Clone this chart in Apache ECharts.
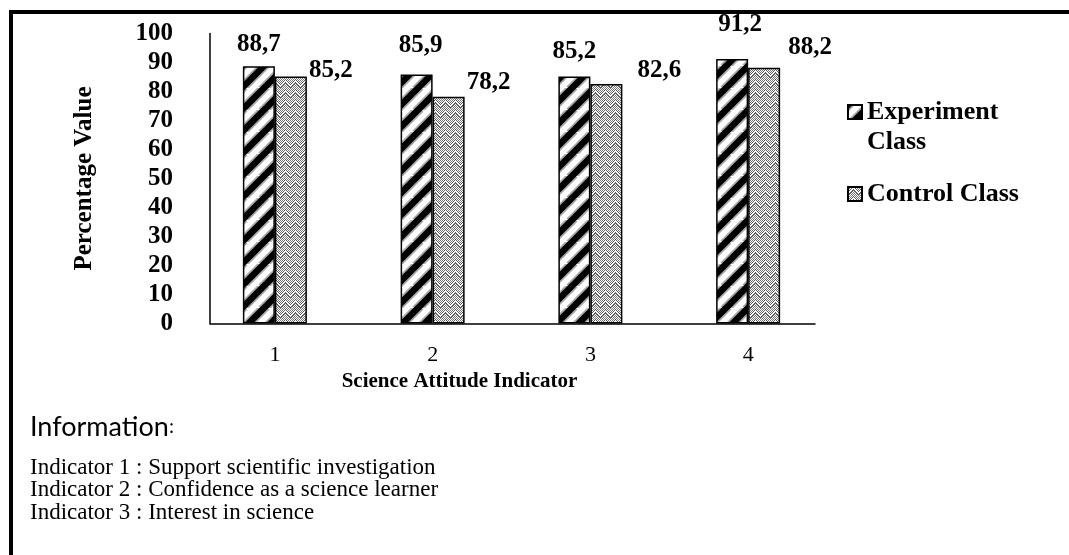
<!DOCTYPE html>
<html><head><meta charset="utf-8">
<script src="https://cdn.jsdelivr.net/npm/echarts@6/dist/echarts.min.js"></script>
<style>
html,body{margin:0;padding:0;background:#fff;overflow:hidden;}
#c{width:1069px;height:555px;position:absolute;left:0;top:0;}
#frame{position:absolute;left:9px;top:10px;width:1060px;height:545px;border-top:4px solid #000;border-left:4px solid #000;box-sizing:border-box;pointer-events:none;}
</style></head>
<body><div id="c"></div><div id="frame"></div>
<script>
// ---- data ----
const categories = ['1', '2', '3', '4'];
const experimentValues = [88.7, 85.9, 85.2, 91.2];
const controlValues = [85.2, 78.2, 82.6, 88.2];
const seriesNames = ['Experiment Class', 'Control Class'];
const yMin = 0, yMax = 100, yStep = 10;
const xTitle = 'Science Attitude Indicator';
const yTitle = 'Percentage Value';
const infoTitle = 'Information';
const infoLines = [
  'Indicator 1 : Support scientific investigation',
  'Indicator 2 : Confidence as a science learner',
  'Indicator 3 : Interest in science'
];
// ---- label placement (style, not data) ----
const expLabelOffsets = [[0, -9.5], [4, -16.5], [0, -12.5], [8, -22]];
const ctrlLabelOffsets = [[40, 6.5], [40, -1.5], [53, -1], [46, -7.5]];

const SERIF = '"Liberation Serif", "Times New Roman", serif';

function stripePattern() {
  const T = 22;
  const c = document.createElement('canvas');
  c.width = T; c.height = T;
  const g = c.getContext('2d');
  g.fillStyle = '#fff'; g.fillRect(0, 0, T, T);
  [[10, '#a8a8a8'], [6.5, '#000']].forEach(([w, col]) => {
    g.strokeStyle = col; g.lineWidth = w;
    for (let k = -1; k <= 1; k++) {
      g.beginPath(); g.moveTo(k * T - 2, T + 2); g.lineTo(k * T + T + 2, -2); g.stroke();
    }
  });
  return c;
}
function weavePattern() {
  const W = 10, H = 10;
  const c = document.createElement('canvas');
  c.width = W; c.height = H;
  const g = c.getContext('2d');
  g.fillStyle = '#fff'; g.fillRect(0, 0, W, H);
  for (let y = 0; y < H; y++) for (let x = 0; x < W; x++) {
    const cy = Math.abs(x - 5);
    const d = ((y - cy) % H + H) % H;
    if (d === 0 || d === 1) continue; // white chevron
    if (d === 2 || d === H - 1) { g.fillStyle = '#555'; g.fillRect(x, y, 1, 1); continue; }
    if ((x + y) % 2 === 0) { g.fillStyle = '#777'; g.fillRect(x, y, 1, 1); }
  }
  return c;
}
const expFill = { image: stripePattern(), repeat: 'repeat' };
const ctrlFill = { image: weavePattern(), repeat: 'repeat' };

const fmt = p => String(p.value).replace('.', ',');
const labelBase = { show: true, position: 'top', distance: 0, fontFamily: SERIF, fontWeight: 'bold', fontSize: 25, color: '#000', formatter: fmt };

const chart = echarts.init(document.getElementById('c'), null, { renderer: 'canvas' });
chart.setOption({
  animation: false,
  backgroundColor: '#fff',
  grid: [
    { left: 210, top: 33.5, width: 605, height: 290 },
    { left: 196, top: 33.5, width: 631, height: 290 }
  ],
  xAxis: [
    { gridIndex: 0, type: 'value', min: 0, max: 1,
      axisLine: { show: true, onZero: false, lineStyle: { color: '#000', width: 1.5 } },
      axisTick: { show: false }, axisLabel: { show: false }, splitLine: { show: false } },
    { gridIndex: 1, type: 'category', data: categories,
      axisLine: { show: false }, axisTick: { show: false },
      axisLabel: { fontFamily: SERIF, fontSize: 22, color: '#000', margin: 21 },
      name: xTitle, nameLocation: 'middle', nameGap: 43,
      nameTextStyle: { fontFamily: SERIF, fontWeight: 'bold', fontSize: 21, color: '#000', padding: [0, 104, 0, 0] } }
  ],
  yAxis: [
    { gridIndex: 0, type: 'value', min: yMin, max: yMax, interval: yStep,
      axisLine: { show: true, lineStyle: { color: '#000', width: 1.5 } },
      axisTick: { show: false }, splitLine: { show: false },
      axisLabel: { fontFamily: SERIF, fontWeight: 'bold', fontSize: 25, color: '#000', margin: 37 },
      name: yTitle, nameLocation: 'middle', nameGap: 113, nameRotate: 90,
      nameTextStyle: { fontFamily: SERIF, fontWeight: 'bold', fontSize: 25, color: '#000' } },
    { gridIndex: 1, type: 'value', min: yMin, max: yMax, show: false, splitLine: { show: false } }
  ],
  legend: {
    orient: 'vertical', left: 847, top: 67, padding: 0, itemGap: 22,
    itemWidth: 14, itemHeight: 14, icon: 'rect',
    textStyle: { fontFamily: SERIF, fontWeight: 'bold', fontSize: 26, color: '#000', lineHeight: 30 },
    formatter: n => n === seriesNames[0] ? '\n' + n.replace(' ', '\n') : n,
    data: seriesNames
  },
  series: [
    { name: seriesNames[0], type: 'bar', xAxisIndex: 1, yAxisIndex: 1, barWidth: 32, barGap: '0%',
      itemStyle: { color: expFill, borderColor: '#000', borderWidth: 1.5 },
      label: labelBase,
      data: experimentValues.map((v, i) => ({ value: v, label: { offset: expLabelOffsets[i] } })) },
    { name: seriesNames[1], type: 'bar', xAxisIndex: 1, yAxisIndex: 1, barWidth: 32, barGap: '0%',
      itemStyle: { color: ctrlFill, borderColor: '#000', borderWidth: 1.5 },
      label: labelBase,
      data: controlValues.map((v, i) => ({ value: v, label: { offset: ctrlLabelOffsets[i] } })) }
  ],
  graphic: [
    { type: 'text', left: 30, top: 414,
      style: { text: '{a|' + infoTitle + '}{b|:}',
        rich: { a: { fontFamily: 'Lato, "Open Sans", sans-serif', fontSize: 27, fill: '#000' },
                b: { fontFamily: SERIF, fontSize: 20, fill: '#000' } } } },
    { type: 'text', left: 30, top: 456,
      style: { text: infoLines.join('\n'), fontFamily: SERIF, fontSize: 23, lineHeight: 22.5, fill: '#000' } }
  ]
});
</script>
</body></html>
